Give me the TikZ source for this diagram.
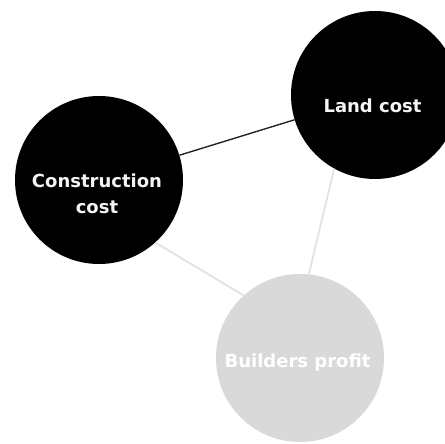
\documentclass[tikz,border=0pt]{standalone}
\usepackage{fontspec}
\setmainfont{DejaVu Sans}
\definecolor{dotgrey}{HTML}{D9D9D9}
\definecolor{linegrey}{HTML}{E2E2E2}
\definecolor{txtwhite}{HTML}{F4F4F4}
\begin{document}
\begin{tikzpicture}[x=1pt,y=-1pt,
  blackdot/.style={circle,fill=black,inner sep=0pt,minimum size=168pt},
  greydot/.style={circle,fill=dotgrey,inner sep=0pt,minimum size=168pt},
  lbl/.style={text=txtwhite,font=\bfseries\fontsize{18}{26}\selectfont,align=center,inner sep=0pt,anchor=base},
  darkline/.style={draw=black!85,line width=1.4pt},
  lightline/.style={draw=linegrey,line width=1.8pt}]
\useasboundingbox (0,0) rectangle (444,444);
\node[blackdot] (cc) at (99,180) {};
\node[blackdot] (lc) at (375,95) {};
\node[greydot] (bp) at (300,358) {};
\draw[darkline] (cc) -- (lc);
\draw[lightline] (cc.-48) -- (bp.132);
\draw[lightline] (lc.-119) -- (bp.84);
\node[lbl] (cct) at (97,213) {Construction\\cost};
\node[lbl] (lct) at (372.5,112) {Land cost};
\node[lbl,text=white] (bpt) at (297.5,367) {Builders profit};
\end{tikzpicture}
\end{document}
